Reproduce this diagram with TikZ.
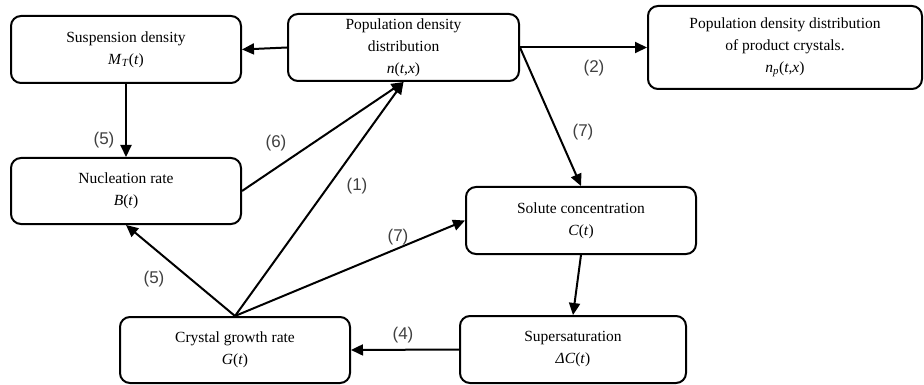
\documentclass[tikz,border=0pt]{standalone}
\usepackage{fontspec}
\setmainfont{Liberation Serif}
\newfontfamily\lblfont{Liberation Sans}
\usetikzlibrary{arrows.meta}
\begin{document}
\begin{tikzpicture}[x=1pt,y=-1pt,
  box/.style={draw,line width=2pt,rounded corners=10pt,align=center,inner sep=0pt,
    font=\fontsize{15.5}{22}\selectfont},
  arr/.style={line width=2pt,-{Triangle[length=12pt,width=11pt]}},
  lbl/.style={font=\lblfont\fontsize{17}{18}\selectfont\color{black!75},inner sep=0pt}]
\useasboundingbox (0,0) rectangle (924,385);
\node[box,minimum width=230pt,minimum height=67pt] (susp) at (126,49.5) {Suspension density\\\textit{M}\textsubscript{\textit{T}}(\textit{t})};
\node[box,minimum width=231pt,minimum height=67pt] (pop) at (403.5,47.5) {Population density\\distribution\\\textit{n}(\textit{t},\textit{x})};
\node[box,minimum width=274pt,minimum height=83pt] (prod) at (785,47.5) {Population density distribution\\of product crystals.\\\textit{n}\textsubscript{\textit{p}}(\textit{t},\textit{x})};
\node[box,minimum width=230pt,minimum height=66pt] (nucl) at (126,191) {Nucleation rate\\\textit{B}(\textit{t})};
\node[box,minimum width=230pt,minimum height=67pt] (sol) at (581,220.5) {Solute concentration\\\textit{C}(\textit{t})};
\node[box,minimum width=226pt,minimum height=67pt] (sup) at (573,349.5) {Supersaturation\\\textit{ΔC}(\textit{t})};
\node[box,minimum width=230pt,minimum height=66pt] (grow) at (235,350) {Crystal growth rate\\\textit{G}(\textit{t})};

\draw[arr] (pop.west) -- (susp.east);
\draw[arr] (pop.east) -- (prod.west);
\draw[arr] (pop.east) -- (sol.north);
\draw[arr] (susp.south) -- (nucl.north);
\draw[arr] (nucl.east) -- (pop.south);
\draw[arr] (grow.north) -- (pop.south);
\draw[arr] (grow.north) -- (nucl.south);
\draw[arr] (grow.north) -- (sol.west);
\draw[arr] (sol.south) -- (sup.north);
\draw[arr] (sup.west) -- (grow.east);

\node[lbl] (l2) at (594,68) {(2)};
\node[lbl] (l7a) at (583,132) {(7)};
\node[lbl] (l5a) at (104,140) {(5)};
\node[lbl] (l6) at (276,143) {(6)};
\node[lbl] (l1) at (357,186) {(1)};
\node[lbl] (l5b) at (154,279) {(5)};
\node[lbl] (l7b) at (398,237) {(7)};
\node[lbl] (l4) at (403,335) {(4)};
\end{tikzpicture}
\end{document}
